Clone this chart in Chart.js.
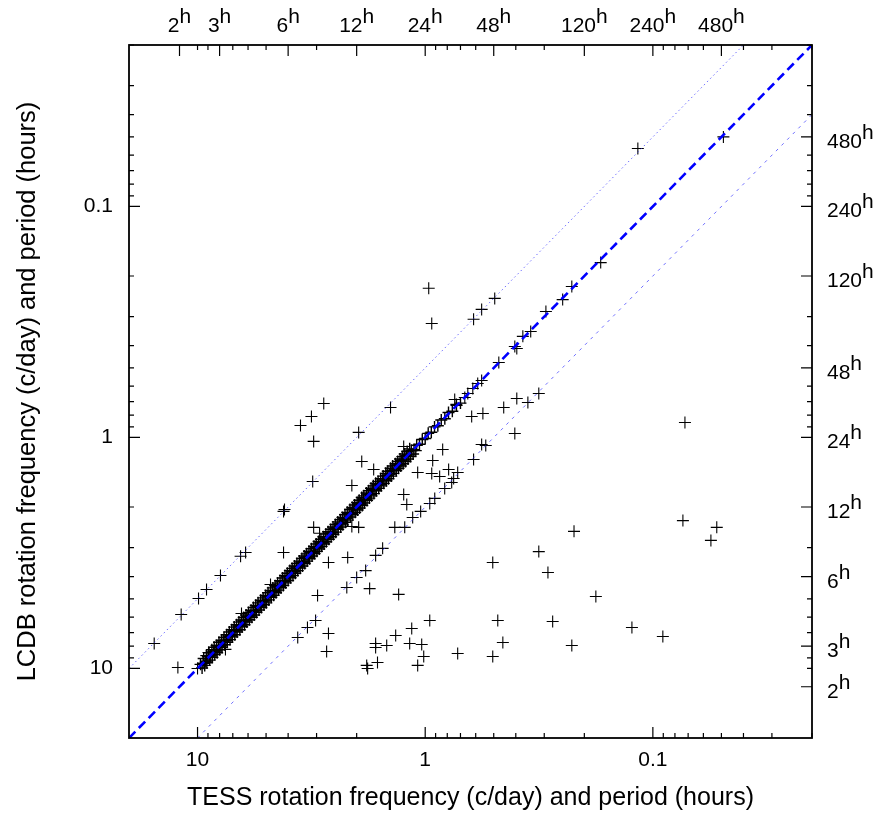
<!DOCTYPE html>
<html>
<head>
<meta charset="utf-8">
<script src="https://cdn.jsdelivr.net/npm/chart.js@4.4.0/dist/chart.umd.min.js"></script>
<style>
  html, body { margin: 0; padding: 0; background: #fff; }
  canvas { display: block; }
</style>
</head>
<body>
<canvas id="rotChart" width="885" height="814"></canvas>
<script>
// TESS vs LCDB rotation frequency (c/day)

// dense run of objects sitting on the 1:1 line
const tessDiag = [9.7, 9.45, 9.2, 9.0, 8.75, 8.5, 8.3, 8.1, 7.9, 7.7,
  7.5, 7.3, 7.12, 6.95, 6.78, 6.6, 6.45, 6.3, 6.15, 6.0,
  5.85, 5.7, 5.58, 5.45, 5.3, 5.18, 5.05, 4.93, 4.8, 4.69,
  4.58, 4.47, 4.36, 4.25, 4.15, 4.05, 3.95, 3.86, 3.77, 3.68,
  3.59, 3.5, 3.42, 3.34, 3.26, 3.18, 3.1, 3.03, 2.96, 2.89,
  2.82, 2.75, 2.69, 2.62, 2.56, 2.5, 2.44, 2.38, 2.33, 2.27,
  2.22, 2.16, 2.11, 2.06, 2.01, 1.96, 1.92, 1.87, 1.83, 1.78,
  1.74, 1.7, 1.66, 1.62, 1.58, 1.54, 1.5, 1.47, 1.43, 1.4,
  1.36, 1.33, 1.3, 1.27, 1.24, 1.21, 1.18, 1.15, 1.12, 1.09,
  1.06, 1.03, 1.0, 0.97, 0.94, 0.91, 0.88, 0.85, 0.82, 0.79,
  0.76, 0.73, 0.7];
const lcdbDiag = [9.6, 9.5, 9.3, 8.9, 8.8, 8.45, 8.4, 8.0, 7.95, 7.6,
  7.55, 7.25, 7.2, 6.9, 6.85, 6.55, 6.5, 6.25, 6.2, 5.95,
  5.9, 5.65, 5.62, 5.4, 5.35, 5.13, 5.1, 4.88, 4.85, 4.65,
  4.62, 4.43, 4.4, 4.21, 4.19, 4.01, 3.99, 3.82, 3.8, 3.64,
  3.62, 3.47, 3.45, 3.31, 3.29, 3.15, 3.13, 3.0, 2.99, 2.86,
  2.85, 2.73, 2.71, 2.6, 2.58, 2.48, 2.46, 2.36, 2.35, 2.25,
  2.24, 2.14, 2.13, 2.04, 2.03, 1.94, 1.94, 1.85, 1.85, 1.76,
  1.76, 1.68, 1.68, 1.6, 1.6, 1.53, 1.51, 1.46, 1.44, 1.39,
  1.37, 1.32, 1.31, 1.26, 1.25, 1.2, 1.19, 1.14, 1.13, 1.08,
  1.07, 1.02, 1.01, 0.96, 0.95, 0.9, 0.89, 0.84, 0.83, 0.78,
  0.77, 0.72, 0.71];

// same band, objects a little off the line (LCDB slightly higher)
const tessBandHi = [9.55, 9.3, 9.1, 8.85, 8.6, 8.4, 8.2, 8.0, 7.8, 7.6,
  7.4, 7.2, 7.03, 6.86, 6.7, 6.52, 6.37, 6.22, 6.07, 5.92,
  5.77, 5.64, 5.51, 5.37, 5.24, 5.11, 4.99, 4.86, 4.74, 4.63,
  4.52, 4.41, 4.3, 4.2, 4.1, 4.0, 3.9, 3.81, 3.72, 3.63,
  3.54, 3.46, 3.38, 3.3, 3.22, 3.14, 3.06, 2.99, 2.92, 2.85,
  2.78, 2.72, 2.65, 2.59, 2.53, 2.47, 2.41, 2.35, 2.3, 2.24,
  2.19, 2.13, 2.08, 2.03, 1.98, 1.94, 1.89, 1.85, 1.8, 1.76,
  1.72, 1.68, 1.64, 1.6, 1.56, 1.52, 1.48, 1.45, 1.41, 1.38,
  1.34, 1.31, 1.28, 1.25, 1.22, 1.19, 1.16, 1.13, 1.1];
const lcdbBandHi = [9.95, 9.7, 9.45, 9.2, 8.95, 8.7, 8.55, 8.3, 8.1, 7.9,
  7.7, 7.5, 7.3, 7.15, 6.95, 6.8, 6.6, 6.47, 6.3, 6.15,
  6.0, 5.87, 5.72, 5.58, 5.45, 5.3, 5.2, 5.05, 4.92, 4.82,
  4.7, 4.58, 4.47, 4.37, 4.26, 4.16, 4.05, 3.96, 3.87, 3.77,
  3.68, 3.6, 3.51, 3.43, 3.35, 3.26, 3.18, 3.11, 3.04, 2.96,
  2.89, 2.83, 2.76, 2.69, 2.63, 2.57, 2.5, 2.44, 2.39, 2.33,
  2.28, 2.21, 2.16, 2.11, 2.06, 2.02, 1.97, 1.92, 1.87, 1.83,
  1.79, 1.75, 1.7, 1.66, 1.62, 1.58, 1.54, 1.51, 1.47, 1.43,
  1.39, 1.36, 1.33, 1.3, 1.27, 1.24, 1.21, 1.18, 1.14];

// same band, LCDB slightly lower
const tessBandLo = [9.4, 9.15, 8.9, 8.65, 8.45, 8.25, 8.05, 7.85, 7.65, 7.45,
  7.25, 7.08, 6.9, 6.74, 6.58, 6.42, 6.27, 6.12, 5.97, 5.82,
  5.68, 5.55, 5.42, 5.28, 5.15, 5.03, 4.9, 4.78, 4.67, 4.56,
  4.45, 4.34, 4.23, 4.13, 4.03, 3.93, 3.84, 3.75, 3.66, 3.57,
  3.48, 3.4, 3.32, 3.24, 3.16, 3.08, 3.01, 2.94, 2.87, 2.8,
  2.73, 2.67, 2.6, 2.54, 2.48, 2.42, 2.36, 2.31, 2.25, 2.2,
  2.14, 2.09, 2.04, 1.99, 1.95, 1.9, 1.86, 1.81, 1.77, 1.73,
  1.69, 1.65, 1.61, 1.57, 1.53, 1.49, 1.46, 1.42, 1.39, 1.35,
  1.32, 1.29, 1.26, 1.23, 1.2, 1.17];
const lcdbBandLo = [9.05, 8.8, 8.55, 8.3, 8.1, 7.95, 7.7, 7.55, 7.35, 7.15,
  6.95, 6.8, 6.62, 6.47, 6.3, 6.17, 6.02, 5.87, 5.73, 5.6,
  5.45, 5.33, 5.2, 5.07, 4.95, 4.83, 4.7, 4.59, 4.48, 4.38,
  4.27, 4.17, 4.06, 3.96, 3.87, 3.77, 3.69, 3.6, 3.51, 3.43,
  3.34, 3.26, 3.19, 3.11, 3.03, 2.96, 2.89, 2.82, 2.76, 2.69,
  2.62, 2.56, 2.5, 2.44, 2.38, 2.32, 2.27, 2.22, 2.16, 2.11,
  2.05, 2.01, 1.96, 1.91, 1.87, 1.82, 1.79, 1.74, 1.7, 1.66,
  1.62, 1.58, 1.55, 1.51, 1.47, 1.43, 1.4, 1.36, 1.33, 1.3,
  1.27, 1.24, 1.21, 1.18, 1.15, 1.12];

// everything else (aliases, sparse 1:1 points, scatter)
const tessOther = [15.5, 11.8, 9.9, 9.13, 7.93, 6.47, 6.15, 4.19, 4.15, 3.12,
  2.79, 3.16, 3.53, 3.09, 1.42, 1.96, 0.965, 0.936, 0.495, 0.565,
  0.613, 0.1164, 0.049, 0.1695, 0.227, 0.249, 0.295, 0.344, 0.3725, 0.404,
  0.396, 0.475, 0.565, 0.588, 0.618, 0.65, 0.67, 0.742, 0.728, 0.317,
  0.396, 0.354, 0.452, 0.625, 0.558, 0.404, 0.565, 0.542, 0.613, 0.838,
  1.243, 0.927, 1.079, 0.936, 0.864, 0.789, 0.72, 0.75, 1.9, 1.684,
  2.1, 1.243, 1.205, 3.09, 2.91, 2.1, 1.96, 1.36, 1.23, 1.135,
  1.047, 0.955, 0.908, 0.821, 0.765, 1.538, 4.19, 2.66, 2.19, 1.651,
  4.78, 2.97, 2.21, 2.0, 1.826, 1.754, 1.308, 7.54, 8.95, 12.2,
  10.0, 6.41, 3.63, 3.29, 3.03, 2.66, 2.71, 1.651, 1.651, 1.476,
  1.348, 1.146, 1.17, 1.036, 0.955, 1.015, 1.079, 1.807, 1.79, 1.62,
  0.72, 0.505, 0.317, 0.222, 0.289, 0.178, 0.48, 0.456, 0.505, 0.2755,
  0.227, 0.1236, 0.0904, 0.0738, 0.0524, 0.0556, 0.0723];
const lcdbOther = [7.8, 5.84, 4.98, 4.55, 3.96, 3.27, 3.15, 2.09, 2.05, 1.55,
  0.713, 0.811, 0.887, 1.04, 0.742, 0.951, 0.226, 0.321, 0.25, 0.279,
  0.308, 0.0561, 0.05, 0.175, 0.222, 0.253, 0.285, 0.348, 0.365, 0.404,
  0.412, 0.474, 0.567, 0.584, 0.614, 0.645, 0.671, 0.685, 0.727, 0.645,
  0.678, 0.706, 0.742, 0.811, 0.787, 0.961, 1.072, 1.083, 1.245, 1.127,
  1.094, 1.258, 1.417, 1.432, 1.475, 1.376, 1.417, 1.505, 1.27, 1.376,
  1.614, 1.765, 1.95, 2.45, 2.6, 2.43, 2.45, 2.45, 2.45, 2.22,
  2.09, 1.93, 1.836, 1.663, 1.566, 3.02, 3.15, 3.48, 3.31, 3.24,
  4.33, 4.83, 4.46, 4.04, 3.77, 4.51, 4.78, 8.27, 8.53, 9.9,
  10.0, 5.78, 7.34, 6.65, 6.2, 7.06, 8.44, 7.8, 8.11, 7.95,
  7.2, 6.71, 7.8, 7.87, 6.2, 8.87, 9.7, 9.7, 10.0, 9.42,
  8.61, 3.48, 3.12, 2.55, 3.84, 4.88, 6.2, 7.72, 8.87, 6.26,
  7.95, 6.65, 7.27, 2.29, 2.45, 2.79, 0.861];

// guide lines: equal, half and double frequency
const equalX = [20, 0.02], equalY = [20, 0.02];
const halfX = [20, 0.04], halfY = [10, 0.02];
const doubleX = [10, 0.02], doubleY = [20, 0.04];

// axis ticks
const freqTicks = [10, 1, 0.1];
const periodHours = [2, 3, 6, 12, 24, 48, 120, 240, 480];
const minorFreqs = [0.02, 0.03, 0.04, 0.05, 0.06, 0.07, 0.08, 0.09, 0.1,
  0.2, 0.3, 0.4, 0.5, 0.6, 0.7, 0.8, 0.9, 1,
  2, 3, 4, 5, 6, 7, 8, 9, 10];

const FONT = "'Liberation Sans', Arial, sans-serif";

function toPoints(xs, ys) {
    return xs.map((v, i) => ({ x: v, y: ys[i] }));
}

function crosses(xs, ys, width) {
    return {
        data: toPoints(xs, ys),
        pointStyle: 'cross',
        pointRadius: 6,
        borderColor: '#000',
        borderWidth: width,
        order: 1
    };
}

// frame, inward ticks and the period (hours) labels on top / right
const frameTicks = {
    id: 'frameTicks',
    afterDraw(chart) {
        const { ctx, chartArea: a } = chart;
        const x = chart.scales.x, y = chart.scales.y;
        ctx.save();
        ctx.strokeStyle = '#000';
        ctx.lineWidth = 1.2;
        ctx.beginPath();
        const seg = (x1, y1, x2, y2) => { ctx.moveTo(x1, y1); ctx.lineTo(x2, y2); };
        minorFreqs.forEach(f => {
            const px = x.getPixelForValue(f), py = y.getPixelForValue(f);
            seg(px, a.bottom, px, a.bottom - 5);
            seg(px, a.top, px, a.top + 5);
            seg(a.left, py, a.left + 5, py);
            seg(a.right, py, a.right - 5, py);
        });
        freqTicks.forEach(f => {
            const px = x.getPixelForValue(f), py = y.getPixelForValue(f);
            seg(px, a.bottom, px, a.bottom - 11);
            seg(a.left, py, a.left + 11, py);
        });
        periodHours.forEach(h => {
            const px = x.getPixelForValue(24 / h), py = y.getPixelForValue(24 / h);
            seg(px, a.top, px, a.top + 11);
            seg(a.right, py, a.right - 11, py);
        });
        ctx.stroke();

        ctx.lineWidth = 1.8;
        ctx.strokeRect(a.left, a.top, a.right - a.left, a.bottom - a.top);

        // period labels with superscript h
        ctx.fillStyle = '#000';
        ctx.font = '21px ' + FONT;
        ctx.textAlign = 'left';
        ctx.textBaseline = 'alphabetic';
        periodHours.forEach(h => {
            const num = String(h);
            const w1 = ctx.measureText(num).width;
            const w2 = ctx.measureText('h').width;
            const px = x.getPixelForValue(24 / h);
            const start = px - (w1 + w2) / 2;
            ctx.fillText(num, start, 32);
            ctx.fillText('h', start + w1, 23);

            const py = y.getPixelForValue(24 / h);
            ctx.fillText(num, a.right + 15, py + 11);
            ctx.fillText('h', a.right + 15 + w1, py + 2);
        });
        ctx.restore();
    }
};

const ctx = document.getElementById('rotChart').getContext('2d');
const rotChart = new Chart(ctx, {
    type: 'scatter',
    data: {
        datasets: [
            {
                data: toPoints(equalX, equalY),
                showLine: true,
                borderColor: '#0000ff',
                borderWidth: 2.6,
                borderDash: [9, 5],
                pointRadius: 0,
                order: 0
            },
            {
                data: toPoints(halfX, halfY),
                showLine: true,
                borderColor: 'rgba(50, 50, 255, 0.7)',
                borderWidth: 1,
                borderDash: [1.5, 3],
                pointRadius: 0,
                order: 0
            },
            {
                data: toPoints(doubleX, doubleY),
                showLine: true,
                borderColor: 'rgba(50, 50, 255, 0.7)',
                borderWidth: 1,
                borderDash: [3, 5],
                pointRadius: 0,
                order: 0
            },
            crosses(tessDiag, lcdbDiag, 1.4),
            crosses(tessBandHi, lcdbBandHi, 1.4),
            crosses(tessBandLo, lcdbBandLo, 1.4),
            crosses(tessOther, lcdbOther, 1.1)
        ]
    },
    options: {
        responsive: false,
        animation: false,
        layout: { padding: { top: 45, right: 73, left: 0, bottom: 0 } },
        plugins: {
            legend: { display: false },
            tooltip: { enabled: false }
        },
        scales: {
            x: {
                type: 'logarithmic',
                reverse: true,
                min: 0.02,
                max: 20,
                grid: { display: false, drawTicks: false },
                border: { display: false },
                afterBuildTicks: scale => {
                    scale.ticks = freqTicks.map(v => ({ value: v }));
                },
                afterFit: scale => { scale.height = 76; },
                ticks: {
                    autoSkip: false,
                    maxRotation: 0,
                    padding: 10,
                    color: '#000',
                    font: { family: FONT, size: 21 },
                    callback: v => String(v)
                },
                title: {
                    display: true,
                    text: 'TESS rotation frequency (c/day) and period (hours)',
                    color: '#000',
                    font: { family: FONT, size: 25, lineHeight: 1.2 },
                    padding: { top: 0, bottom: 1 }
                }
            },
            y: {
                type: 'logarithmic',
                reverse: true,
                min: 0.02,
                max: 20,
                grid: { display: false, drawTicks: false },
                border: { display: false },
                afterBuildTicks: scale => {
                    scale.ticks = freqTicks.map(v => ({ value: v }));
                },
                afterFit: scale => { scale.width = 129; },
                ticks: {
                    autoSkip: false,
                    padding: 16,
                    color: '#000',
                    font: { family: FONT, size: 21 },
                    callback: v => String(v)
                },
                title: {
                    display: true,
                    text: 'LCDB rotation frequency (c/day) and period (hours)',
                    color: '#000',
                    font: { family: FONT, size: 25.5, lineHeight: 1.2 },
                    padding: { top: 13, bottom: 0 }
                }
            }
        }
    },
    plugins: [frameTicks]
});
</script>
</body>
</html>
